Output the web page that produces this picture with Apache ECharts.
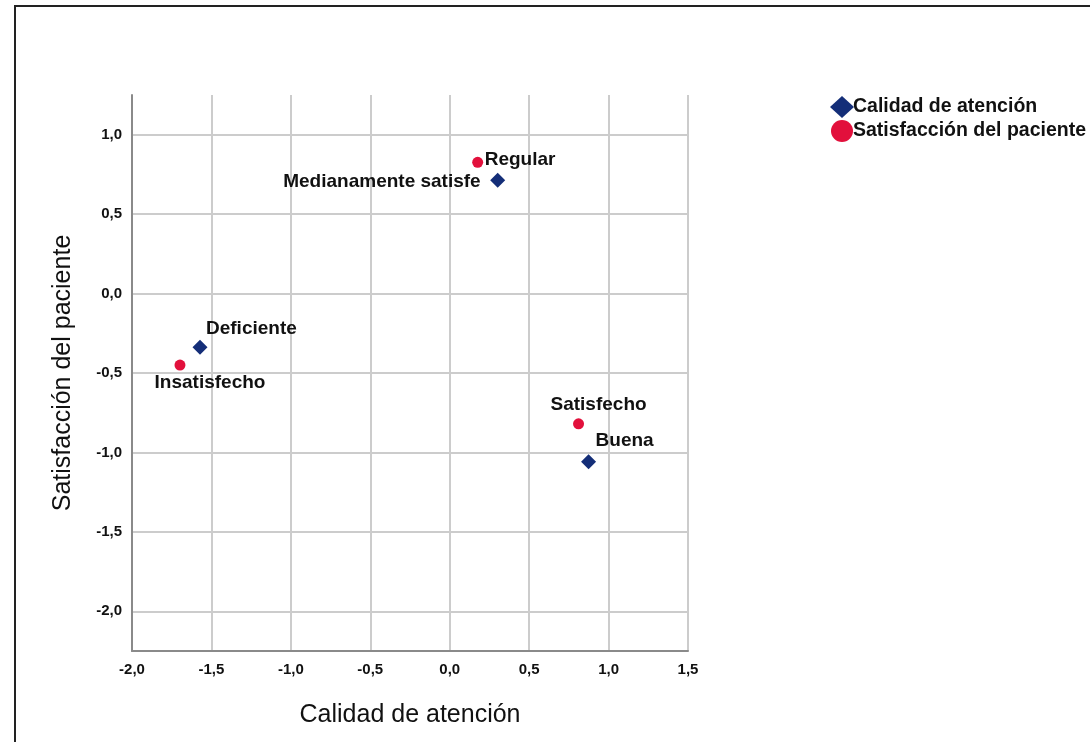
<!DOCTYPE html>
<html>
<head>
<meta charset="utf-8">
<script src="https://cdn.jsdelivr.net/npm/echarts@6/dist/echarts.min.js"></script>
<style>html,body{margin:0;padding:0;background:#fff}#c{width:1090px;height:742px}</style>
</head>
<body>
<div id="c"></div>
<script>
const seriesNames = ['Calidad de atención', 'Satisfacción del paciente'];
const calidadLabels = ['Deficiente', 'Medianamente satisfe', 'Buena'];
const calidadX = [-1.572, 0.302, 0.874];
const calidadY = [-0.338, 0.713, -1.058];
const satisLabels = ['Insatisfecho', 'Regular', 'Satisfecho'];
const satisX = [-1.698, 0.176, 0.811];
const satisY = [-0.450, 0.826, -0.820];
const yTicks = [-2.0, -1.5, -1.0, -0.5, 0.0, 0.5, 1.0];
const xTicks = [-2.0, -1.5, -1.0, -0.5, 0.0, 0.5, 1.0, 1.5];

const fmt = v => v.toFixed(1).replace('.', ',');
const FONT = '"Liberation Sans", Arial, sans-serif';

// label placement (style only)
const calidadLabelStyle = [
  {align: 'left', offset: [6, -18]},
  {align: 'right', offset: [-17, 1]},
  {align: 'left', offset: [7, -21]}
];
const satisLabelStyle = [
  {align: 'center', offset: [30, 18]},
  {align: 'left', offset: [7, -3]},
  {align: 'center', offset: [20, -19]}
];

function build(xs, ys, labels, styles) {
  return xs.map((x, i) => ({
    value: [x, ys[i]],
    name: labels[i],
    label: {position: 'inside', align: styles[i].align, verticalAlign: 'middle', offset: styles[i].offset}
  }));
}

const labelCommon = {
  show: true,
  formatter: p => p.name,
  color: '#111',
  fontFamily: FONT,
  fontWeight: 'bold',
  fontSize: 19
};

const chart = echarts.init(document.getElementById('c'), null, {renderer: 'canvas'});
chart.setOption({
  animation: false,
  backgroundColor: '#fff',
  graphic: [{
    type: 'rect', shape: {x: 15, y: 6, width: 1100, height: 760},
    style: {fill: 'none', stroke: '#222', lineWidth: 2}, silent: true, z: 100
  }],
  grid: {left: 132, right: 402, top: 95, bottom: 91, containLabel: false},
  legend: {
    orient: 'vertical', left: 825, top: 91, itemWidth: 24, itemHeight: 22, itemGap: 2,
    textStyle: {fontFamily: FONT, fontWeight: 'bold', fontSize: 19.5, color: '#111', padding: [0, 0, 0, -6]},
    data: seriesNames
  },
  xAxis: {
    type: 'value', min: -2, max: 1.5, interval: 0.5,
    name: 'Calidad de atención', nameLocation: 'middle', nameGap: 52,
    nameTextStyle: {fontFamily: FONT, fontSize: 25, color: '#111'},
    axisLine: {show: true, onZero: false, lineStyle: {color: '#8a8a8a', width: 2}},
    axisTick: {show: false},
    axisLabel: {formatter: fmt, fontFamily: FONT, fontWeight: 'bold', fontSize: 15, color: '#111', margin: 11},
    splitLine: {show: true, lineStyle: {color: '#cccccc', width: 2}}
  },
  yAxis: {
    type: 'value', min: -2.25, max: 1.25,
    name: 'Satisfacción del paciente', nameLocation: 'middle', nameGap: 56, nameRotate: 90,
    nameTextStyle: {fontFamily: FONT, fontSize: 25, color: '#111'},
    axisLine: {show: true, onZero: false, lineStyle: {color: '#8a8a8a', width: 2}},
    axisTick: {show: false, customValues: yTicks},
    axisLabel: {customValues: yTicks, formatter: fmt, fontFamily: FONT, fontWeight: 'bold', fontSize: 15, color: '#111', margin: 10},
    splitLine: {show: true, lineStyle: {color: '#cccccc', width: 2}}
  },
  series: [
    {
      name: seriesNames[0], type: 'scatter', symbol: 'diamond', symbolSize: 15,
      itemStyle: {color: '#142e78', opacity: 1},
      label: labelCommon,
      data: build(calidadX, calidadY, calidadLabels, calidadLabelStyle)
    },
    {
      name: seriesNames[1], type: 'scatter', symbol: 'circle', symbolSize: 11,
      itemStyle: {color: '#e2103c', opacity: 1},
      label: labelCommon,
      data: build(satisX, satisY, satisLabels, satisLabelStyle)
    }
  ]
});
</script>
</body>
</html>
